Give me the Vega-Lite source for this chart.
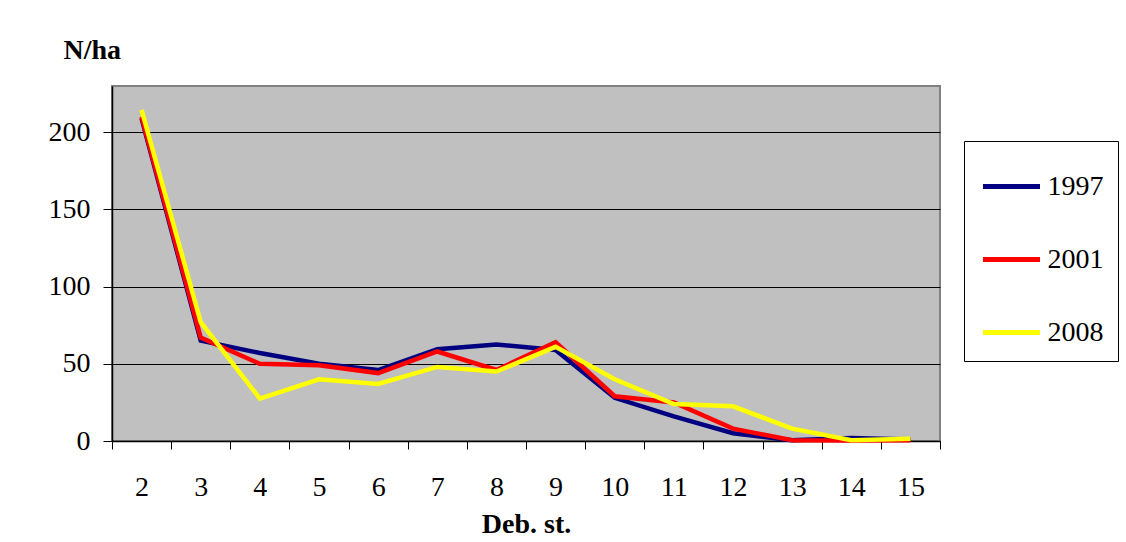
{
  "$schema": "https://vega.github.io/schema/vega-lite/v6.json",
  "width": 828,
  "height": 355,
  "autosize": {"type": "none"},
  "padding": {"left": 112, "top": 86, "right": 186, "bottom": 101},
  "background": "#ffffff",
  "config": {
    "font": "Liberation Serif",
    "view": {"fill": "#C0C0C0", "stroke": "#808080", "strokeWidth": 2},
    "axis": {"labelFont": "Liberation Serif", "titleFont": "Liberation Serif", "labelColor": "#000", "titleColor": "#000"}
  },
  "data": {
    "values": [
      {"st": 2, "year": "1997", "n": 209},
      {"st": 3, "year": "1997", "n": 65},
      {"st": 4, "year": "1997", "n": 57},
      {"st": 5, "year": "1997", "n": 50},
      {"st": 6, "year": "1997", "n": 46},
      {"st": 7, "year": "1997", "n": 59.5},
      {"st": 8, "year": "1997", "n": 62.5},
      {"st": 9, "year": "1997", "n": 59},
      {"st": 10, "year": "1997", "n": 28},
      {"st": 11, "year": "1997", "n": 16},
      {"st": 12, "year": "1997", "n": 5},
      {"st": 13, "year": "1997", "n": 0.5},
      {"st": 14, "year": "1997", "n": 2},
      {"st": 15, "year": "1997", "n": 1},
      {"st": 2, "year": "2001", "n": 210},
      {"st": 3, "year": "2001", "n": 67},
      {"st": 4, "year": "2001", "n": 50},
      {"st": 5, "year": "2001", "n": 49},
      {"st": 6, "year": "2001", "n": 44},
      {"st": 7, "year": "2001", "n": 58},
      {"st": 8, "year": "2001", "n": 46},
      {"st": 9, "year": "2001", "n": 64},
      {"st": 10, "year": "2001", "n": 29},
      {"st": 11, "year": "2001", "n": 25},
      {"st": 12, "year": "2001", "n": 8},
      {"st": 13, "year": "2001", "n": 0.5},
      {"st": 14, "year": "2001", "n": 0.3},
      {"st": 15, "year": "2001", "n": 0.5},
      {"st": 2, "year": "2008", "n": 214.5},
      {"st": 3, "year": "2008", "n": 77},
      {"st": 4, "year": "2008", "n": 27.5},
      {"st": 5, "year": "2008", "n": 40},
      {"st": 6, "year": "2008", "n": 37},
      {"st": 7, "year": "2008", "n": 48},
      {"st": 8, "year": "2008", "n": 45},
      {"st": 9, "year": "2008", "n": 61},
      {"st": 10, "year": "2008", "n": 40},
      {"st": 11, "year": "2008", "n": 24},
      {"st": 12, "year": "2008", "n": 22.5},
      {"st": 13, "year": "2008", "n": 8},
      {"st": 14, "year": "2008", "n": 0.5},
      {"st": 15, "year": "2008", "n": 1.5}
    ]
  },
  "mark": {"type": "line", "strokeWidth": 4.5, "strokeJoin": "miter", "strokeCap": "butt"},
  "encoding": {
    "x": {
      "field": "st",
      "type": "ordinal",
      "sort": null,
      "scale": {"type": "band", "paddingInner": 0, "paddingOuter": 0},
      "axis": {
        "title": "Deb. st.",
        "titleFontSize": 28,
        "titleFontWeight": "bold",
        "titleY": 91,
        "titleBaseline": "alphabetic",
        "labelAngle": 0,
        "labelFontSize": 28,
        "labelBaseline": "alphabetic",
        "labelPadding": 46,
        "tickBand": "extent",
        "tickSize": 8,
        "tickColor": "#000",
        "tickWidth": 1,
        "domainColor": "#000",
        "domainWidth": 1.5,
        "grid": false
      }
    },
    "y": {
      "field": "n",
      "type": "quantitative",
      "scale": {"domain": [0, 230], "nice": false, "zero": true},
      "axis": {
        "title": "N/ha",
        "titleFontSize": 28,
        "titleFontWeight": "bold",
        "titleAngle": 0,
        "titleAlign": "left",
        "titleBaseline": "alphabetic",
        "titleX": -49,
        "titleY": -28,
        "values": [0, 50, 100, 150, 200],
        "labelFontSize": 28,
        "labelPadding": 13,
        "tickSize": 9,
        "tickColor": "#000",
        "tickWidth": 1,
        "domainColor": "#000",
        "domainWidth": 1.5,
        "grid": true,
        "gridColor": "#000",
        "gridWidth": 1,
        "gridOpacity": 1
      }
    },
    "color": {
      "field": "year",
      "type": "nominal",
      "scale": {"domain": ["1997", "2001", "2008"], "range": ["#000080", "#FF0000", "#FFFF00"]},
      "legend": {
        "title": null,
        "orient": "none",
        "legendX": 852,
        "legendY": 55,
        "strokeColor": "#000",
        "fillColor": "#fff",
        "padding": 14.5,
        "symbolType": "stroke",
        "symbolSize": 3249,
        "symbolStrokeWidth": 5,
        "symbolOffset": 2,
        "rowPadding": 28,
        "labelFontSize": 28,
        "labelFont": "Liberation Serif",
        "labelColor": "#000",
        "labelOffset": 5
      }
    }
  }
}
